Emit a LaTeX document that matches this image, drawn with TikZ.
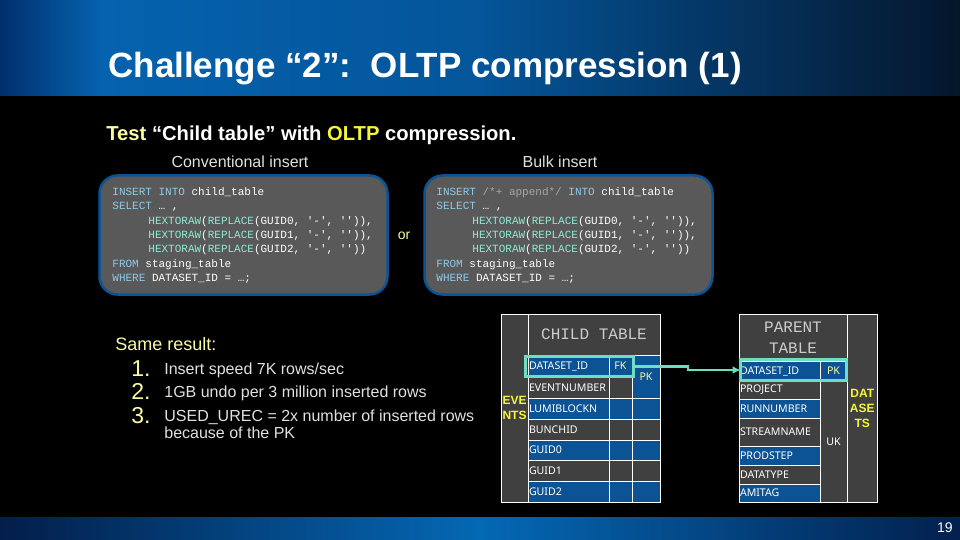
\documentclass[tikz,border=0pt]{standalone}
\usepackage{fontspec}
\setmainfont{Liberation Sans}
\setmonofont{Liberation Mono}
\newfontfamily\cellfont{Noto Sans}
\usepackage{tikz}
\usetikzlibrary{positioning}
\usetikzlibrary{shapes,arrows,arrows.meta}
\definecolor{cellblue}{HTML}{0B5394}
\definecolor{celldark}{HTML}{404040}
\definecolor{hilite}{HTML}{6FDDC0}
\definecolor{keyblue}{HTML}{8CCBEA}
\definecolor{funcgreen}{HTML}{8FEBD6}
\definecolor{keyyellow}{HTML}{F5F53C}
\definecolor{paleyellow}{HTML}{FBFBA0}
\definecolor{bandpeak}{HTML}{0562AE}
\definecolor{bandmid}{HTML}{04559A}
\definecolor{bandleft}{HTML}{012F6E}
\definecolor{bandright}{HTML}{05162C}
\definecolor{footleft}{HTML}{031E4A}
\definecolor{footmid}{HTML}{0468B4}
\definecolor{footright}{HTML}{03204E}
\newcommand{\kw}[1]{\textcolor{keyblue}{#1}}
\newcommand{\fn}[1]{\textcolor{funcgreen}{#1}}
\tikzset{%
  plain/.style    = {text=white, inner sep=0pt, anchor=base west},
  codebox/.style  = {draw=cellblue, line width=2.5pt, fill=black!65, rounded corners=18pt,
    minimum width=288pt, minimum height=119pt},
  code/.style     = {text=white, inner sep=0pt, anchor=north west, align=left,
    font=\ttfamily\fontsize{11}{14.35}\selectfont},
  num/.style      = {text=paleyellow, inner sep=0pt, anchor=base east,
    font=\fontsize{23}{24}\selectfont},
  item/.style     = {text=white!88!black, inner sep=0pt, anchor=base west,
    font=\fontsize{16}{17}\selectfont},
  cell/.style     = {draw=white, line width=1pt, anchor=north west, inner sep=0pt, outer sep=0pt},
  namecell/.style = {cell, text=white, text width=79pt, inner xsep=1pt, align=left,
    font=\cellfont\fontsize{10.6}{12}\selectfont},
  keycell/.style  = {cell, text=paleyellow, align=center,
    font=\cellfont\fontsize{10.6}{12}\selectfont},
  head/.style     = {cell, fill=celldark, text=white!80!black, align=center,
    font=\ttfamily\fontsize{16}{21}\selectfont},
  side/.style     = {cell, fill=celldark, text=keyyellow, align=center,
    font=\bfseries\fontsize{12}{15}\selectfont},
  keymark/.style  = {draw=hilite, line width=3pt, anchor=north west, inner sep=0pt, outer sep=0pt}
}

\begin{document}
\begin{tikzpicture}[auto, thick, x=1pt, y=-1pt, >={Latex[length=8pt,width=8pt]}]

  \fill[black] (0,0) rectangle (960,540);
  \useasboundingbox (0,0) rectangle (960,540);

  % title and footer bands
  \shade[left color=bandleft, right color=bandpeak] (0,0) rectangle (100,96);
  \shade[left color=bandpeak, right color=bandmid] (100,0) rectangle (480,96);
  \shade[left color=bandmid, right color=bandright] (480,0) rectangle (960,96);
  \shade[left color=footleft, right color=footmid] (0,517) rectangle (480,540);
  \shade[left color=footmid, right color=footright] (480,517) rectangle (960,540);

  \draw node at (108,78) [plain, font=\bfseries\fontsize{35}{38}\selectfont] (title) {Challenge “2”:\ \ OLTP compression (1)};
  \draw node at (953,532) [inner sep=0pt, anchor=base east, text=white, font=\fontsize{14}{16}\selectfont] (page) {19};

  \draw node at (106,141) [plain, font=\bfseries\fontsize{20.2}{22}\selectfont] (test) {\textcolor{paleyellow}{Test} “Child table” with \textcolor{keyyellow}{OLTP} compression.};
  \draw node at (240,162) [text=white!88!black, inner sep=0pt, font=\fontsize{16}{18}\selectfont] (conv) {Conventional insert};
  \draw node at (560,162) [text=white!88!black, inner sep=0pt, font=\fontsize{16}{18}\selectfont] (bulk) {Bulk insert};
  \draw node at (404,236) [text=paleyellow, inner sep=0pt, font=\fontsize{14}{16}\selectfont] (or) {or};

  % SQL boxes
  \draw node at (243.5,235) [codebox] (box1) {};
  \draw node at (568.5,235) [codebox] (box2) {};
  \draw node at (112,187) [code] (sql1) {\kw{INSERT INTO} child\_table\\
\kw{SELECT} … ,\\
\hspace*{36pt}\fn{HEXTORAW}(\fn{REPLACE}(GUID0, '-', '')),\\
\hspace*{36pt}\fn{HEXTORAW}(\fn{REPLACE}(GUID1, '-', '')),\\
\hspace*{36pt}\fn{HEXTORAW}(\fn{REPLACE}(GUID2, '-', ''))\\
\kw{FROM} staging\_table\\
\kw{WHERE} DATASET\_ID = …;};
  \draw node at (436,187) [code] (sql2) {\kw{INSERT} \textcolor{white!65!black}{/*+ append*/} \kw{INTO} child\_table\\
\kw{SELECT} … ,\\
\hspace*{36pt}\fn{HEXTORAW}(\fn{REPLACE}(GUID0, '-', '')),\\
\hspace*{36pt}\fn{HEXTORAW}(\fn{REPLACE}(GUID1, '-', '')),\\
\hspace*{36pt}\fn{HEXTORAW}(\fn{REPLACE}(GUID2, '-', ''))\\
\kw{FROM} staging\_table\\
\kw{WHERE} DATASET\_ID = …;};

  % result list
  \draw node at (115,350) [plain, text=paleyellow, font=\fontsize{18}{20}\selectfont] (same) {Same result:};
  \draw node at (151,376.5) [num] (n1) {1.};
  \draw node at (151,399.5) [num] (n2) {2.};
  \draw node at (151,423.5) [num] (n3) {3.};
  \draw node at (164,374) [item] (i1) {Insert speed 7K rows/sec};
  \draw node at (164,397) [item] (i2) {1GB undo per 3 million inserted rows};
  \draw node at (164,421) [item] (i3) {USED\_UREC = 2x number of inserted rows};
  \draw node at (164,438) [item] (i4) {because of the PK};

  % child table
  \draw node at (501,314) [side, minimum width=27pt, minimum height=188pt] (events) {EVE\\NTS};
  \draw node at (528,314) [head, minimum width=132pt, minimum height=41pt] (chead) {CHILD TABLE};
  \draw node at (528,355) [namecell, fill=cellblue, minimum height=22pt] (c1) {DATASET\_ID};
  \draw node at (528,377) [namecell, fill=celldark, minimum height=21pt] (c2) {EVENTNUMBER};
  \draw node at (528,398) [namecell, fill=cellblue, minimum height=21pt] (c3) {LUMIBLOCKN};
  \draw node at (528,419) [namecell, fill=celldark, minimum height=21pt] (c4) {BUNCHID};
  \draw node at (528,440) [namecell, fill=cellblue, minimum height=20pt] (c5) {GUID0};
  \draw node at (528,460) [namecell, fill=celldark, minimum height=21pt] (c6) {GUID1};
  \draw node at (528,481) [namecell, fill=cellblue, minimum height=21pt] (c7) {GUID2};
  \draw node at (609,355) [keycell, fill=cellblue, minimum width=23pt, minimum height=22pt] (fk1) {FK};
  \draw node at (609,377) [keycell, fill=celldark, minimum width=23pt, minimum height=21pt] (fk2) {};
  \draw node at (609,398) [keycell, fill=cellblue, minimum width=23pt, minimum height=21pt] (fk3) {};
  \draw node at (609,419) [keycell, fill=celldark, minimum width=23pt, minimum height=21pt] (fk4) {};
  \draw node at (609,440) [keycell, fill=cellblue, minimum width=23pt, minimum height=20pt] (fk5) {};
  \draw node at (609,460) [keycell, fill=celldark, minimum width=23pt, minimum height=21pt] (fk6) {};
  \draw node at (609,481) [keycell, fill=cellblue, minimum width=23pt, minimum height=21pt] (fk7) {};
  \draw node at (632,355) [keycell, fill=cellblue, minimum width=28pt, minimum height=43pt] (pk1) {PK};
  \draw node at (632,398) [keycell, fill=cellblue, minimum width=28pt, minimum height=21pt] (pk3) {};
  \draw node at (632,419) [keycell, fill=celldark, minimum width=28pt, minimum height=21pt] (pk4) {};
  \draw node at (632,440) [keycell, fill=cellblue, minimum width=28pt, minimum height=20pt] (pk5) {};
  \draw node at (632,460) [keycell, fill=celldark, minimum width=28pt, minimum height=21pt] (pk6) {};
  \draw node at (632,481) [keycell, fill=cellblue, minimum width=28pt, minimum height=21pt] (pk7) {};

  % parent table
  \draw node at (739,314) [head, minimum width=108pt, minimum height=47pt] (phead) {PARENT\\TABLE};
  \draw node at (847,314) [side, minimum width=30.5pt, minimum height=188pt] (datasets) {DAT\\ASE\\TS};
  \draw node at (739,361) [namecell, fill=cellblue, minimum height=20pt] (p1) {DATASET\_ID};
  \draw node at (739,381) [namecell, fill=celldark, minimum height=18pt] (p2) {PROJECT};
  \draw node at (739,399) [namecell, fill=cellblue, minimum height=19pt] (p3) {RUNNUMBER};
  \draw node at (739,418) [namecell, fill=celldark, minimum height=28pt] (p4) {STREAMNAME};
  \draw node at (739,446) [namecell, fill=cellblue, minimum height=19pt] (p5) {PRODSTEP};
  \draw node at (739,465) [namecell, fill=celldark, minimum height=19pt] (p6) {DATATYPE};
  \draw node at (739,484) [namecell, fill=cellblue, minimum height=18pt] (p7) {AMITAG};
  \draw node at (820,361) [keycell, fill=cellblue, minimum width=27pt, minimum height=20pt] (ppk) {PK};
  \draw node at (820,381) [keycell, text=white, fill=celldark, minimum width=27pt, minimum height=121pt] (puk) {UK};

  % highlighted key columns
  \draw node at (525.5,356.5) [keymark, minimum width=108pt, minimum height=20pt] (cmark) {};
  \draw node at (740.5,359.5) [keymark, minimum width=106pt, minimum height=21pt] (pmark) {};
  \coordinate (kink) at (688,368);

  \draw[->, hilite, line width=2.5pt] (cmark.east) -| (kink) |- (pmark.west);

\end{tikzpicture}
\end{document}
